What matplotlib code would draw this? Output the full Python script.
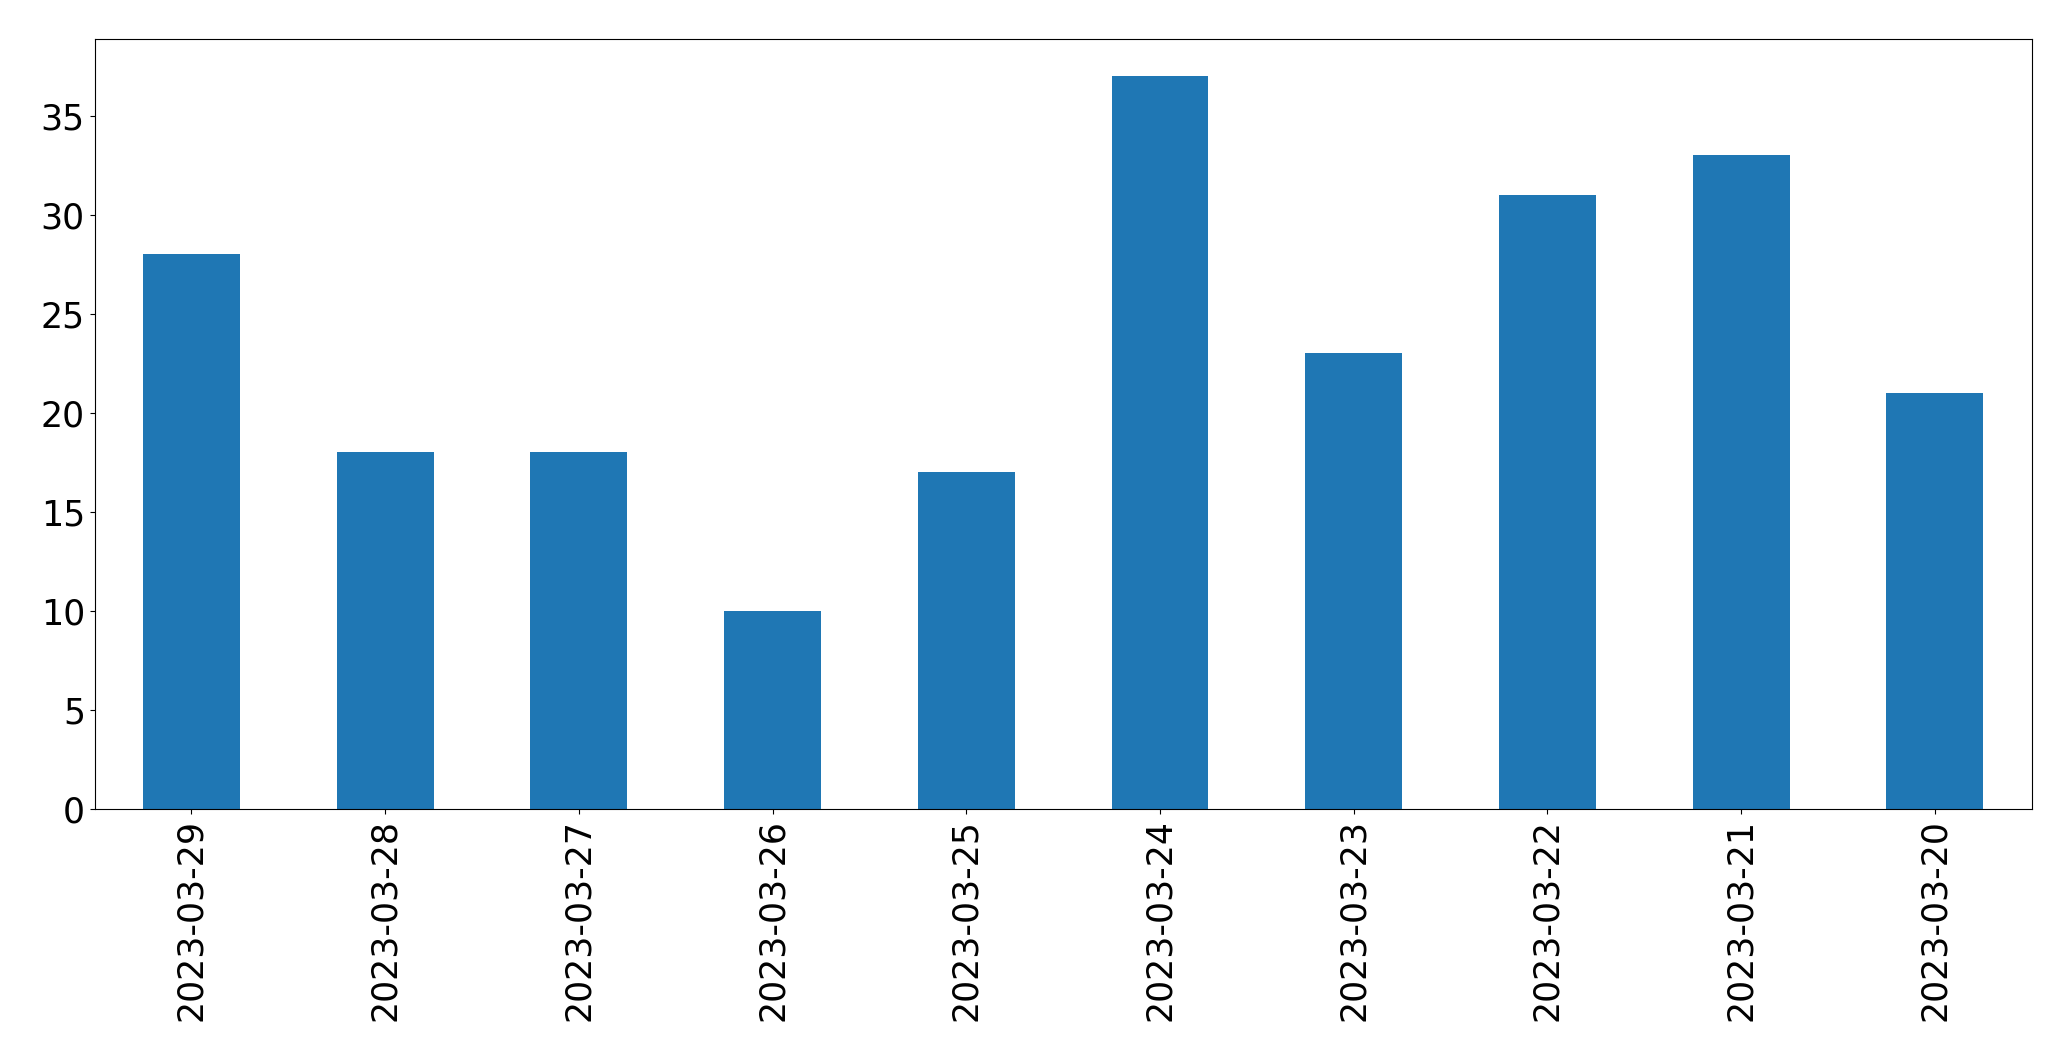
import matplotlib
matplotlib.use("Agg")
import matplotlib.pyplot as plt

dates = ["2023-03-29", "2023-03-28", "2023-03-27", "2023-03-26", "2023-03-25",
         "2023-03-24", "2023-03-23", "2023-03-22", "2023-03-21", "2023-03-20"]
counts = [28, 18, 18, 10, 17, 37, 23, 31, 33, 21]

fig = plt.figure(figsize=(20.71, 10.61), dpi=100)
ax = fig.add_axes([0.0457, 0.2375, 0.9353, 0.7255])
x = range(len(dates))
ax.bar(x, counts, width=0.5, color="#1f77b4")
ax.set_xticks(list(x))
ax.set_xticklabels(dates, rotation=90)
ax.set_xlim(-0.5, len(dates) - 0.5)
ax.set_ylim(0, max(counts) * 1.05)
ax.tick_params(labelsize=25)
fig.savefig("out.png", dpi=100)
